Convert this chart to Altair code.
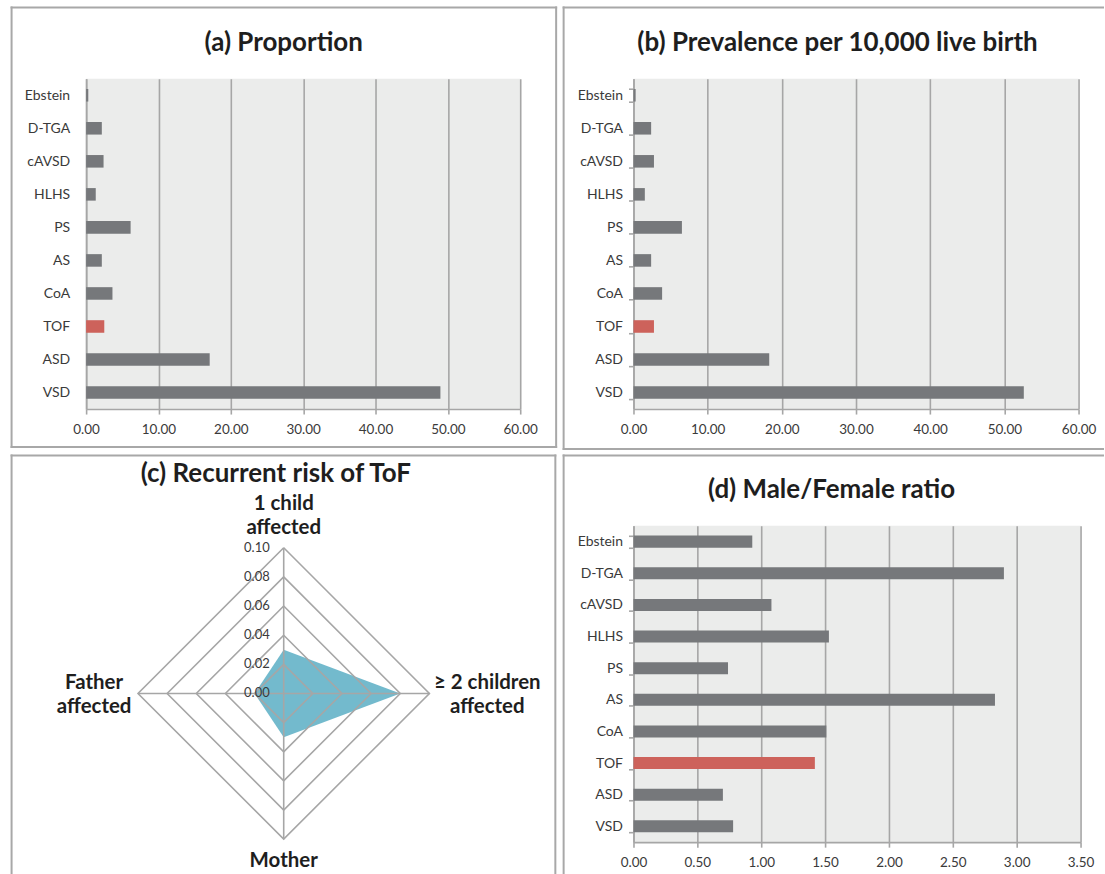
import altair as alt
import pandas as pd

# Congenital heart defect categories, top to bottom on each bar panel
defects = ["Ebstein", "D-TGA", "cAVSD", "HLHS", "PS", "AS", "CoA", "TOF", "ASD", "VSD"]
highlight = "TOF"

# (a) proportion of all CHD, %
proportion = [0.30, 2.17, 2.41, 1.33, 6.15, 2.17, 3.64, 2.51, 17.08, 48.97]
# (b) prevalence per 10,000 live births
prevalence = [0.29, 2.38, 2.76, 1.53, 6.53, 2.38, 3.86, 2.76, 18.30, 52.62]
# (d) male/female ratio
mf_ratio = [0.93, 2.90, 1.08, 1.53, 0.74, 2.83, 1.51, 1.42, 0.70, 0.78]

ticks_a = [0, 10, 20, 30, 40, 50, 60]
ticks_b = [0, 10, 20, 30, 40, 50, 60]
ticks_d = [0, 0.5, 1.0, 1.5, 2.0, 2.5, 3.0, 3.5]

# (c) recurrence risk of ToF, clockwise from the top spoke
risk_axes = ["1 child\naffected", "\u2265 2 children\naffected", "Mother", "Father\naffected"]
risk_values = [0.03, 0.08, 0.03, 0.02]
ring_levels = [0.00, 0.02, 0.04, 0.06, 0.08, 0.10]

FONT = "Lato"
GREY_BAR = "#76787B"
RED_BAR = "#CD625B"
TEAL = "#73BACD"
LINE = "#A6A6A6"
FRAME = "#A8A8A8"
PLOT_BG = "#EBECEB"
TEXT = "#3A3A3A"
TITLE = "#1E1E1E"

one_row = alt.Data(values=[{"k": 0}])


def frame(left, right, top, bottom, sides):
    """Panel outline drawn as rules, in pixels relative to the plot origin."""
    layers = []
    style = dict(color=FRAME, strokeWidth=2, strokeCap="square")
    if "top" in sides:
        layers.append(alt.Chart(one_row).mark_rule(**style).encode(
            x=alt.value(left), x2=alt.value(right), y=alt.value(top)))
    if "bottom" in sides:
        layers.append(alt.Chart(one_row).mark_rule(**style).encode(
            x=alt.value(left), x2=alt.value(right), y=alt.value(bottom)))
    if "left" in sides:
        layers.append(alt.Chart(one_row).mark_rule(**style).encode(
            x=alt.value(left), y=alt.value(top), y2=alt.value(bottom)))
    if "right" in sides:
        layers.append(alt.Chart(one_row).mark_rule(**style).encode(
            x=alt.value(right), y=alt.value(top), y2=alt.value(bottom)))
    return layers


def title_mark(text, x, y):
    return alt.Chart(pd.DataFrame({"t": [text]})).mark_text(
        font=FONT, fontSize=26, fontWeight="bold", color=TITLE,
        align="center", baseline="middle",
    ).encode(x=alt.value(x), y=alt.value(y), text="t:N")


def bar_panel(values, ticks, title, w, h, title_xy, box, sides, y_ticks, label_pad):
    df = pd.DataFrame({"defect": defects, "value": values})
    df["group"] = ["ToF" if d == highlight else "other" for d in defects]
    bars = alt.Chart(df).mark_bar().encode(
        x=alt.X(
            "value:Q", title=None,
            scale=alt.Scale(domain=[ticks[0], ticks[-1]], nice=False, zero=True),
            axis=alt.Axis(
                values=ticks, format=".2f", grid=True, gridColor=LINE, gridWidth=1.6,
                domainColor=LINE, domainWidth=1.6, tickColor=LINE, tickWidth=1.6,
                tickSize=5, labelPadding=8, labelFont=FONT, labelFontSize=13.5,
                labelColor=TEXT, labelFlush=False,
            ),
        ),
        y=alt.Y(
            "defect:N", title=None, sort=defects,
            scale=alt.Scale(paddingInner=0.62, paddingOuter=0.31),
            axis=alt.Axis(
                ticks=y_ticks, tickBand="extent", tickSize=5, tickColor=LINE,
                tickWidth=1.6, domainColor=LINE, domainWidth=1.6,
                labelPadding=label_pad, labelFont=FONT, labelFontSize=14,
                labelColor=TEXT,
            ),
        ),
        color=alt.Color(
            "group:N", legend=None,
            scale=alt.Scale(domain=["other", "ToF"], range=[GREY_BAR, RED_BAR]),
        ),
    )
    layers = [bars, title_mark(title, *title_xy)] + frame(*box, sides)
    return alt.layer(*layers).properties(
        width=w, height=h, view=alt.ViewBackground(fill=PLOT_BG, stroke=None)
    )


# ---- (a) and (b): proportion and prevalence
panel_a = bar_panel(
    proportion, ticks_a, "(a) Proportion", 435, 331, (198, -35.5),
    (-74.7, 471, -71.5, 369), ("top", "bottom", "left", "right"), False, 16.5,
)
panel_b = bar_panel(
    prevalence, ticks_b, "(b) Prevalence per 10,000 live birth", 446, 331, (204.5, -35.5),
    (-70, 470.5, -71.5, 371), ("top", "bottom", "left"), True, 6,
)

# ---- (c): radar of recurrence risk
# plot area shares its left edge with (a) and its top edge with (d);
# the radar centre sits 198 px right and 168 px down, 146 px per 0.10
C_W, C_H = 435, 317
CX, CY, R = 198, 168, 146
r_max = ring_levels[-1]
xs = alt.Scale(domain=[-CX / R * r_max, (C_W - CX) / R * r_max], nice=False, zero=False)
ys = alt.Scale(domain=[-(C_H - CY) / R * r_max, CY / R * r_max], nice=False, zero=False)

risk_df = pd.DataFrame({"axis": risk_axes, "risk": risk_values, "slot": range(len(risk_axes))})
n_axes = len(risk_axes)


def polar(df_chart, r_field, slot_field):
    return df_chart.transform_calculate(
        px=f"datum.{r_field} * sin(datum.{slot_field} * 2 * PI / {n_axes})",
        py=f"datum.{r_field} * cos(datum.{slot_field} * 2 * PI / {n_axes})",
    )


area = polar(alt.Chart(risk_df), "risk", "slot").mark_line(
    filled=True, color=TEAL, fillOpacity=1
).encode(
    x=alt.X("px:Q", scale=xs, axis=None),
    y=alt.Y("py:Q", scale=ys, axis=None),
    order="slot:Q",
)

ring_df = pd.DataFrame(
    [{"level": lv, "slot": s} for lv in ring_levels[1:] for s in range(n_axes + 1)]
)
rings = polar(alt.Chart(ring_df), "level", "slot").mark_line(
    color=LINE, strokeWidth=1.6
).encode(
    x=alt.X("px:Q", scale=xs, axis=None),
    y=alt.Y("py:Q", scale=ys, axis=None),
    detail="level:N",
    order="slot:Q",
)

spoke_df = pd.DataFrame({"slot": range(n_axes), "r": [r_max] * n_axes})
spokes = polar(alt.Chart(spoke_df), "r", "slot").transform_calculate(
    cx="0", cy="0"
).mark_rule(color=LINE, strokeWidth=1.6).encode(
    x=alt.X("cx:Q", scale=xs, axis=None),
    y=alt.Y("cy:Q", scale=ys, axis=None),
    x2="px:Q",
    y2="py:Q",
)

level_labels = alt.Chart(pd.DataFrame({"level": ring_levels})).transform_calculate(
    cx="0"
).mark_text(
    font=FONT, fontSize=13, color=TEXT, align="right", baseline="middle", dx=-14
).encode(
    x=alt.X("cx:Q", scale=xs, axis=None),
    y=alt.Y("level:Q", scale=ys, axis=None),
    text=alt.Text("level:Q", format=".2f"),
)

# per-spoke placement of the category labels (first line anchored, others below)
label_style = [
    dict(dx=0, dy=-44),
    dict(dx=58, dy=-10),
    dict(dx=0, dy=22),
    dict(dx=-44, dy=-10),
]
axis_labels = []
for i, st in enumerate(label_style):
    axis_labels.append(
        polar(alt.Chart(spoke_df), "r", "slot")
        .transform_filter(f"datum.slot == {i}")
        .transform_lookup(lookup="slot", from_=alt.LookupData(risk_df, "slot", ["axis"]))
        .mark_text(font=FONT, fontSize=20.5, fontWeight="bold", color=TITLE,
                   align="center", baseline="middle",
                   lineBreak="\n", lineHeight=24, **st)
        .encode(
            x=alt.X("px:Q", scale=xs, axis=None),
            y=alt.Y("py:Q", scale=ys, axis=None),
            text="axis:N",
        )
    )

panel_c = alt.layer(
    area, rings, spokes, level_labels, *axis_labels,
    title_mark("(c) Recurrent risk of ToF", 190, -52),
    *frame(-74.7, 470.2, -70.5, 348, ("top", "left", "right")),
).properties(width=C_W, height=C_H, view=alt.ViewBackground(stroke=None))

# ---- (d): male/female ratio
panel_d = bar_panel(
    mf_ratio, ticks_d, "(d) Male/Female ratio", 448, 317, (198.5, -36),
    (-70, 470.5, -70.5, 348), ("top", "left"), True, 6,
)

chart = alt.concat(
    panel_a, panel_b, panel_c, panel_d,
    columns=2,
    spacing=alt.RowColnumber(row=3, column=3.5),
    align="each",
    bounds="full",
).properties(
    padding={"left": 9.3, "top": 5, "right": 0, "bottom": 0}
).configure(background="white").configure_view(stroke=None)

chart.save("out.html", embed_options={"renderer": "svg", "actions": False})
